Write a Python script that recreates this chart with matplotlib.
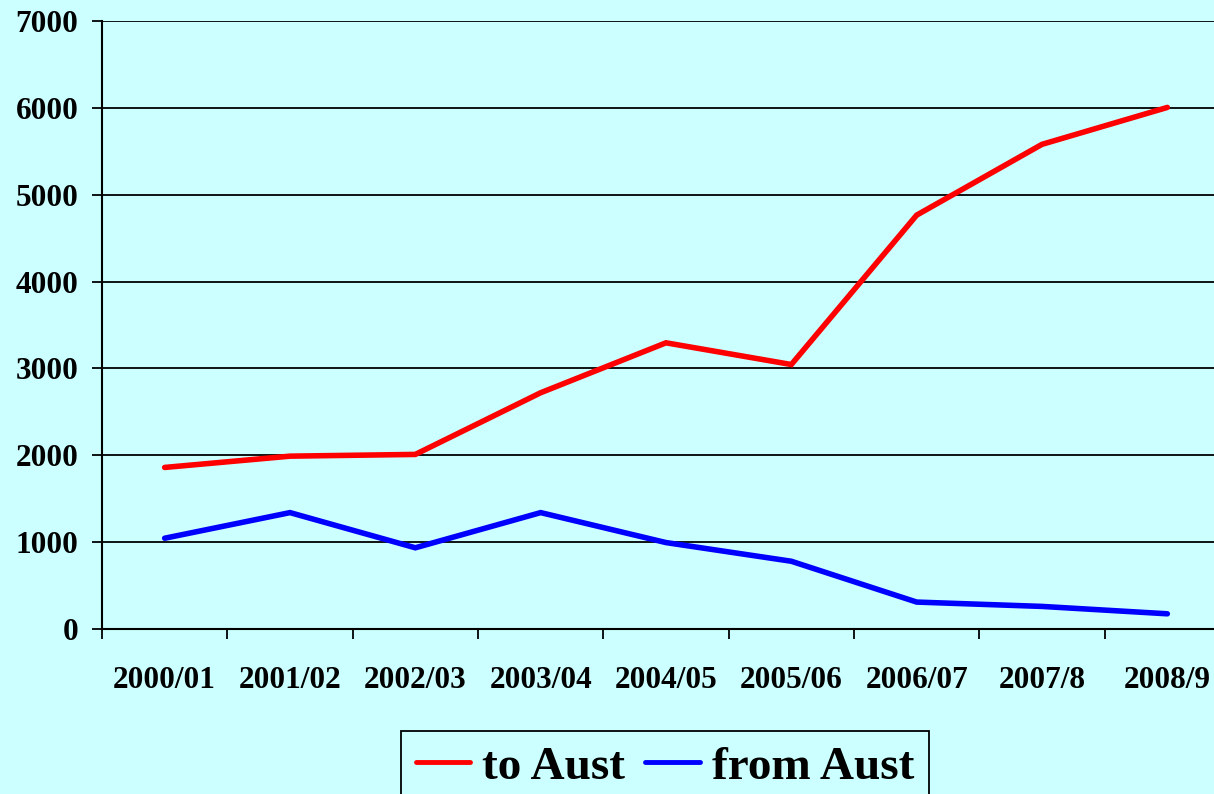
import numpy as np
import matplotlib.pyplot as plt

plt.rcParams['font.family'] = ['Liberation Serif', 'DejaVu Serif']
plt.rcParams['font.weight'] = 'bold'

years = ['2000/01', '2001/02', '2002/03', '2003/04', '2004/05',
         '2005/06', '2006/07', '2007/8', '2008/9']
to_aust = [1860, 1990, 2010, 2720, 3295, 3045, 4765, 5580, 6005]
from_aust = [1045, 1340, 935, 1340, 995, 780, 310, 260, 175]

bg = '#ccffff'

fig = plt.figure(figsize=(12.14, 7.94), dpi=100, facecolor=bg)
ax = fig.add_axes([102/1214, 1 - 629/794, 1128/1214, 608/794])
ax.set_facecolor(bg)

x = np.arange(len(years))
ax.plot(x, to_aust, color='#ff0000', lw=4, solid_capstyle='round',
        solid_joinstyle='miter', label='to Aust', zorder=3)
ax.plot(x, from_aust, color='#0000ff', lw=4, solid_capstyle='round',
        solid_joinstyle='miter', label='from Aust', zorder=3)

ax.set_xlim(-0.5, len(years) - 0.5)
ax.set_ylim(0, 7000)

# y axis
ax.set_yticks(np.arange(0, 7001, 1000))
ax.set_yticklabels([str(v) for v in range(0, 7001, 1000)], fontsize=22.5, fontweight='bold')
ax.tick_params(axis='y', direction='out', length=7, width=1.3, pad=10)
ax.yaxis.grid(True, color='black', lw=1.3)
ax.set_axisbelow(True)

# x axis: tick marks between categories, labels at centres
ax.set_xticks(np.arange(-0.5, len(years), 1.0))
ax.set_xticklabels([])
ax.tick_params(axis='x', which='major', direction='out', length=7, width=1.3)
ax.set_xticks(x, minor=True)
ax.set_xticklabels(years, minor=True, fontsize=22.5, fontweight='bold')
ax.tick_params(axis='x', which='minor', length=0, pad=27)

for s in ['top', 'right']:
    ax.spines[s].set_visible(False)
for s in ['left', 'bottom']:
    ax.spines[s].set_linewidth(1.5)
    ax.spines[s].set_color('black')

leg = fig.legend(loc='center', bbox_to_anchor=(665/1214, 1 - 767/794),
                 ncol=2, fontsize=34, frameon=True, fancybox=False,
                 handlelength=1.15, handletextpad=0.26, columnspacing=0.43,
                 borderpad=0.3, borderaxespad=0)
leg.get_frame().set_edgecolor('black')
leg.get_frame().set_facecolor(bg)
leg.get_frame().set_linewidth(1.3)
leg.get_frame().set_alpha(1)
for line in leg.get_lines():
    line.set_linewidth(3.5)

fig.savefig('out.png', dpi=100, facecolor=bg)
